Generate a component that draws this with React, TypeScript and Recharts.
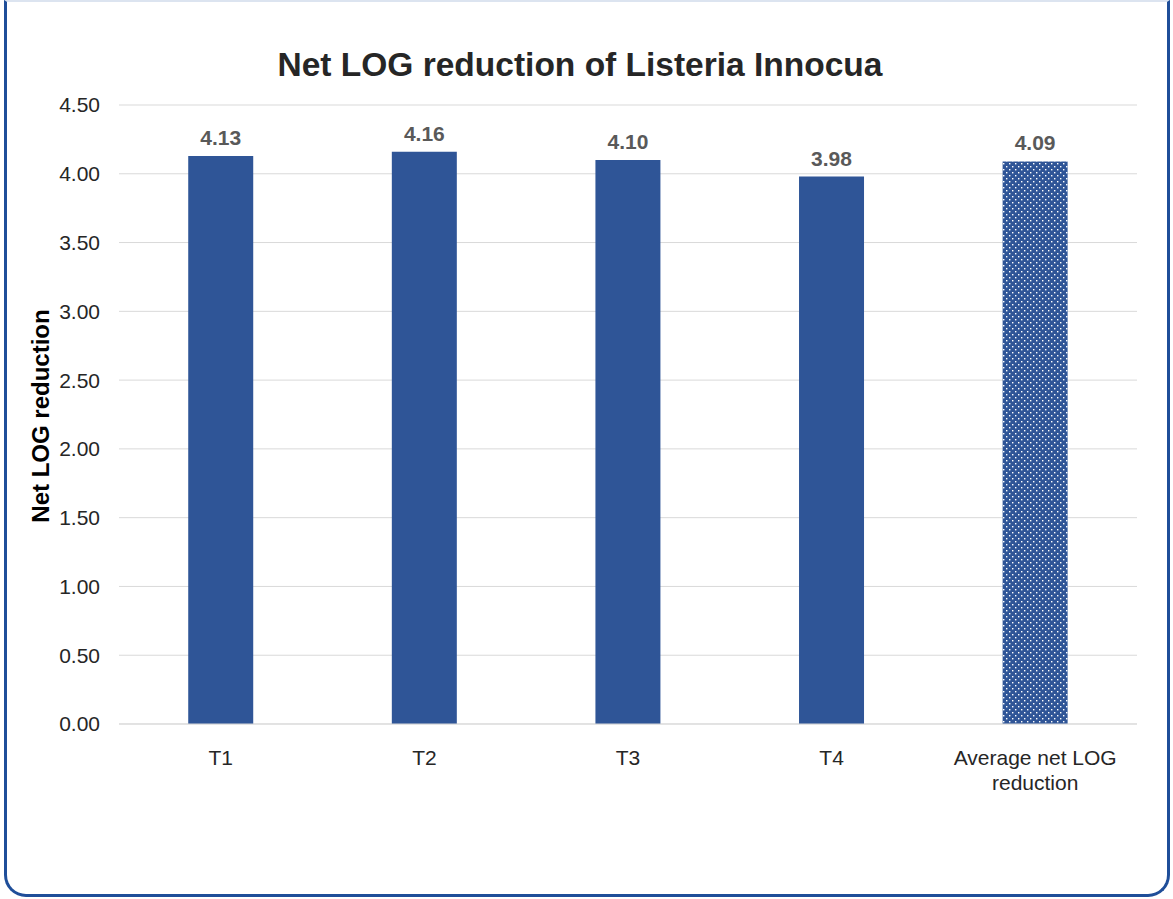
import React from "react";
import { BarChart, Bar, XAxis, YAxis, CartesianGrid, LabelList, Cell } from "recharts";

const categories = ["T1", "T2", "T3", "T4", "Average net LOG reduction"];
const values = [4.13, 4.16, 4.1, 3.98, 4.09];
const yTicks = [0, 0.5, 1, 1.5, 2, 2.5, 3, 3.5, 4, 4.5];
const tickLines: Record<string, string[]> = {
  "Average net LOG reduction": ["Average net LOG", "reduction"],
};

const data = categories.map((c, i) => ({ name: c, value: values[i] }));

const FONT = "'Liberation Sans', Arial, sans-serif";
const BAR = "#2F5597";

const XTick = (props: any) => {
  const { x, y, payload } = props;
  const lines = tickLines[payload.value] || [payload.value];
  return (
    <text x={x} y={y + 33} textAnchor="middle" fill="#262626" fontSize={21} fontFamily={FONT}>
      {lines.map((l: string, i: number) => (
        <tspan key={i} x={x} dy={i === 0 ? 0 : 25}>
          {l}
        </tspan>
      ))}
    </text>
  );
};

export default function App() {
  return (
    <div style={{ position: "absolute", left: 0, top: 0, width: 1173, height: 899, background: "#fff", fontFamily: FONT }}>
      <div
        style={{
          position: "absolute",
          left: 4,
          top: 0,
          width: 1166,
          height: 897,
          boxSizing: "border-box",
          borderLeft: "3px solid #1F4E99",
          borderRight: "3px solid #1F4E99",
          borderBottom: "3px solid #1F4E99",
          borderTop: "2px solid #DCE4F0",
          borderBottomLeftRadius: 22,
          borderBottomRightRadius: 22,
        }}
      />
      <svg width={1173} height={899} style={{ position: "absolute", left: 0, top: 0 }}>
        <text
          x={580}
          y={76}
          textAnchor="middle"
          fontSize={33.5}
          fontWeight="bold"
          fill="#262626"
          fontFamily={FONT}
        >
          Net LOG reduction of Listeria Innocua
        </text>
        <text
          x={49}
          y={416}
          transform="rotate(-90 49 416)"
          textAnchor="middle"
          fontSize={24}
          fontWeight="bold"
          fill="#000"
          fontFamily={FONT}
        >
          Net LOG reduction
        </text>
      </svg>
      <div style={{ position: "absolute", left: 0, top: 0 }}>
        <BarChart
          width={1173}
          height={899}
          data={data}
          margin={{ top: 105, right: 36, bottom: 145, left: 0 }}
          barCategoryGap="34%"
        >
          <defs>
            <pattern id="dots" width="6" height="6" patternUnits="userSpaceOnUse">
              <rect width="6" height="6" fill={BAR} />
              <rect x="1" y="1" width="1.4" height="1.4" fill="#ffffff" />
              <rect x="4" y="4" width="1.4" height="1.4" fill="#ffffff" />
            </pattern>
          </defs>
          <CartesianGrid vertical={false} stroke="#D9D9D9" strokeWidth={1} />
          <XAxis
            dataKey="name"
            height={30}
            axisLine={{ stroke: "#D9D9D9" }}
            tickLine={false}
            interval={0}
            tick={<XTick />}
          />
          <YAxis
            width={119}
            domain={[0, 4.5]}
            ticks={yTicks}
            axisLine={false}
            tickLine={false}
            tickSize={0}
            tickMargin={19}
            tickFormatter={(v: number) => v.toFixed(2)}
            tick={{ fill: "#262626", fontSize: 21, fontFamily: FONT }}
          />
          <Bar dataKey="value" isAnimationActive={false}>
            {data.map((d, i) => (
              <Cell key={i} fill={i === data.length - 1 ? "url(#dots)" : BAR} />
            ))}
            <LabelList
              dataKey="value"
              position="top"
              offset={11}
              formatter={(v: number) => v.toFixed(2)}
              style={{ fill: "#595959", fontSize: 21, fontWeight: "bold", fontFamily: FONT }}
            />
          </Bar>
        </BarChart>
      </div>
    </div>
  );
}
